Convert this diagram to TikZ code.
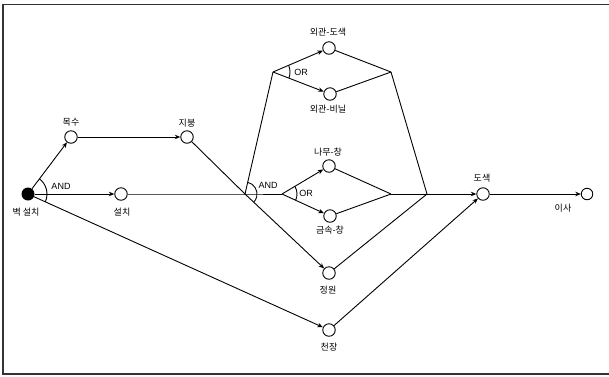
\documentclass[tikz,border=0pt]{standalone}
\usepackage{fontspec}
\setmainfont{Liberation Sans}
\newfontfamily\kr{Noto Sans CJK KR}
\usetikzlibrary{arrows.meta}
\begin{document}
\begin{tikzpicture}[x=1pt,y=1pt,
  ev/.style={circle,draw,line width=0.9pt,fill=white,minimum size=12.5pt,inner sep=0pt},
  lab/.style={font=\kr\fontsize{9}{10}\selectfont,inner sep=0pt},
  gate/.style={font=\fontsize{9}{10}\selectfont,inner sep=0pt},
  ln/.style={line width=0.9pt},
  arr/.style={ln,-{Stealth[length=5.5pt,width=4.5pt]}}]
\useasboundingbox (0,0) rectangle (609,-376);
% frame
\draw[line width=1.2pt,black!80] (615,-4.5) -- (3,-4.5) -- (3,-374) -- (615,-374);
% nodes
\node[circle,fill=black,minimum size=13pt,inner sep=0pt] (wall) at (28,-194) {};
\node[ev] (moksu) at (71,-137) {};
\node[ev] (jibung) at (187,-137) {};
\node[ev] (seolchi) at (121,-194) {};
\node[ev] (oedo) at (329,-48) {};
\node[ev] (oebi) at (330,-94) {};
\node[ev] (namu) at (329,-166) {};
\node[ev] (geum) at (330,-216) {};
\node[ev] (jeong) at (329,-273) {};
\node[ev] (cheon) at (329,-330) {};
\node[ev] (dosaek) at (483,-194) {};
\node[ev,minimum size=11.5pt] (isa) at (587,-194) {};
\coordinate (J1) at (245,-194);
\coordinate (O1) at (273,-72);
\coordinate (O2) at (282,-194);
\coordinate (R1) at (391,-72);
\coordinate (R2) at (391,-194);
\coordinate (R3) at (427,-194);
% labels
\node[lab] (lwall) at (26,-212) {벽 설치};
\node[lab] (lmoksu) at (71,-122) {목수};
\node[lab] (ljibung) at (187,-123) {지붕};
\node[lab] (lseolchi) at (122,-212) {설치};
\node[lab] (loedo) at (328,-32) {외관-도색};
\node[lab] (loebi) at (328,-109) {외관-비닐};
\node[lab] (lnamu) at (328,-152) {나무-창};
\node[lab] (lgeum) at (330,-230) {금속-창};
\node[lab] (ljeong) at (328,-290) {정원};
\node[lab] (lcheon) at (329,-347) {천장};
\node[lab] (ldosaek) at (482,-178) {도색};
\node[lab] (lisa) at (563,-208) {이사};
\node[gate] (and1) at (61,-186) {AND};
\node[gate] (and2) at (268,-185) {AND};
\node[gate] (or1) at (301,-72) {OR};
\node[gate] (or2) at (306,-193) {OR};
% connectors
\draw[arr] (wall) -- (moksu);
\draw[arr] (moksu) -- (jibung);
\draw[arr] (wall) -- (seolchi);
\draw[ln] (seolchi) -- (J1) -- (O2);
\draw[ln] (jibung) -- (J1);
\draw[arr] (J1) -- (jeong);
\draw[ln] (J1) -- (O1);
\draw[arr] (O1) -- (oedo);
\draw[arr] (O1) -- (oebi);
\draw[ln] (oedo) -- (R1);
\draw[ln] (oebi) -- (R1);
\draw[arr] (O2) -- (namu);
\draw[arr] (O2) -- (geum);
\draw[ln] (namu) -- (R2);
\draw[ln] (geum) -- (R2);
\draw[ln] (R2) -- (R3);
\draw[ln] (R1) -- (R3);
\draw[ln] (jeong) -- (R3);
\draw[arr] (R3) -- (dosaek);
\draw[arr] (wall) -- (cheon);
\draw[arr] (cheon) -- (dosaek);
\draw[arr] (dosaek) -- (isa);
% gate arcs
\draw[ln] ([shift={(53:19)}]wall.center) arc[start angle=53,end angle=-24,radius=19];
\draw[ln] ([shift={(77:12)}]J1) arc[start angle=77,end angle=-43,radius=12];
\draw[ln] ([shift={(23:17)}]O1) arc[start angle=23,end angle=-21,radius=17];
\draw[ln] ([shift={(31:15)}]O2) arc[start angle=31,end angle=-25,radius=15];
\end{tikzpicture}
\end{document}
